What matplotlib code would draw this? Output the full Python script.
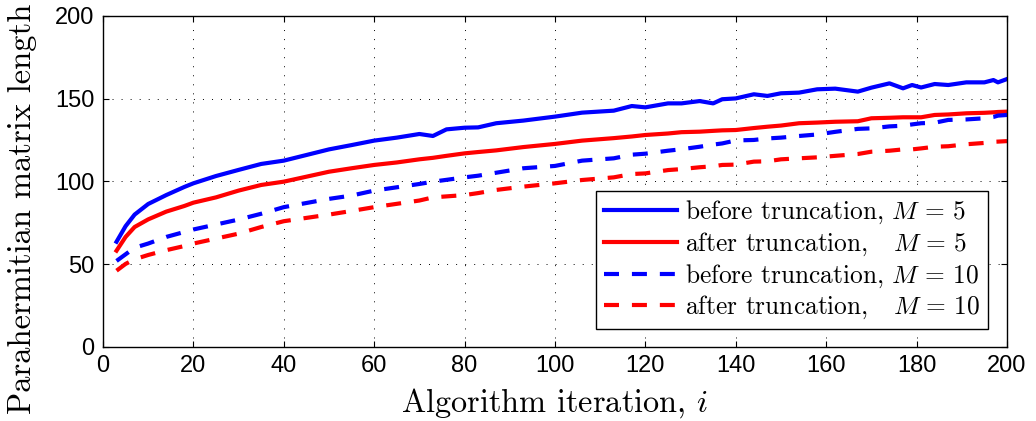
import matplotlib
matplotlib.use('Agg')
import matplotlib.pyplot as plt
import numpy as np

iters = [3, 5, 7, 10, 14, 18, 20, 25, 30, 35, 40, 45, 50, 55, 60, 65, 70, 73, 76, 80,
         83, 87, 93, 100, 106, 113, 117, 120, 125, 128, 132, 135, 137, 140, 144, 147, 150,
         154, 158, 162, 167, 170, 174, 177, 179, 181, 184, 187, 191, 195, 197, 198, 200]

before_m5 = [63.6, 73, 80, 86.4, 91.8, 96.7, 98.9, 103.3, 107, 110.6, 112.6, 116, 119.4, 122,
             124.7, 126.5, 128.7, 127.5, 131.5, 132.5, 132.7, 135.2, 136.8, 139.2, 141.6, 142.8,
             145.6, 144.8, 147.2, 147.2, 148.6, 147.2, 149.7, 150.2, 152.7, 151.7, 153.3, 153.7,
             155.7, 156.1, 154.3, 156.7, 159.3, 156.3, 158.3, 156.8, 158.9, 158.3, 159.9, 159.9,
             161.3, 159.9, 161.9]
after_m5 = [58.2, 66.5, 72.5, 77.1, 81.8, 85.2, 87.2, 90.4, 94.5, 97.9, 99.9, 102.9, 105.9, 108,
            110, 111.5, 113.4, 114.3, 115.5, 117, 117.8, 118.8, 120.8, 122.7, 124.7, 126.2, 127.2,
            128.1, 129, 129.8, 130.1, 130.6, 130.9, 131.1, 132.3, 133.1, 133.8, 135.2, 135.6,
            136.1, 136.4, 138.2, 138.5, 138.8, 138.8, 138.8, 140.2, 140.5, 141.2, 141.5, 141.8,
            142, 142.2]
before_m10 = [52, 56, 60, 62.5, 66.5, 69.5, 71, 74, 77, 80.5, 84.5, 87, 89.5, 91.5, 94.5, 96.5,
              98.5, 99.9, 101, 102.5, 103.5, 105.3, 108, 109.4, 112.6, 114, 116.2, 116.8, 118.6,
              119.5, 121, 122.3, 123, 124.8, 125.1, 126, 126.5, 127.5, 128.4, 130, 131.8, 132.1,
              133.3, 133.7, 134.5, 135.2, 135.5, 137.2, 137.5, 138.2, 139, 139.8, 140.2]
after_m10 = [46.1, 50.2, 53, 55.6, 58.5, 61, 62.5, 65.5, 68.5, 72.5, 76, 78, 80, 82.2, 84.5, 86.5,
             88.5, 90.4, 91, 91.8, 93, 94.9, 96.9, 98.9, 100.9, 102.5, 104.5, 104.9, 106.9, 107.5,
             108.6, 109.2, 110, 110.2, 112, 112.2, 113.4, 114, 114.6, 115.5, 116.6, 118, 118.6,
             119.4, 119.4, 120, 121, 121.3, 122.5, 123.3, 124, 124.1, 124.4]

labels = [r'before truncation, $M\,=\,5$', r'after truncation,   $M\,=\,5$',
          r'before truncation, $M\,=\,10$', r'after truncation,   $M\,=\,10$']

plt.rcParams['mathtext.fontset'] = 'cm'
plt.rcParams['axes.unicode_minus'] = False

fig = plt.figure(figsize=(10.36, 4.21), dpi=100)
ax = fig.add_axes([0.0994, 0.1758, 0.8726, 0.7862])

dash = (3.6, 3.1)
ax.plot(iters, before_m5, color='#0000ff', lw=3, label=labels[0])
ax.plot(iters, after_m5, color='#ff0000', lw=3, label=labels[1])
ax.plot(iters, before_m10, color='#0000ff', lw=3, dashes=dash, label=labels[2])
ax.plot(iters, after_m10, color='#ff0000', lw=3, dashes=dash, label=labels[3])

ax.set_xlim(0, 200)
ax.set_ylim(0, 200)
ax.set_xticks(np.arange(0, 201, 20))
ax.set_yticks(np.arange(0, 201, 50))
ax.grid(True, color='black', linestyle=(0, (1, 8.3)), linewidth=0.7)
ax.tick_params(direction='in', length=4, top=True, right=True, labelsize=17, pad=6)
for lab in ax.get_xticklabels() + ax.get_yticklabels():
    lab.set_family('Liberation Sans')
for sp in ax.spines.values():
    sp.set_linewidth(1.0)

ax.set_xlabel('Algorithm iteration, $i$', family='cmr10', fontsize=23.3, labelpad=6)
ax.set_ylabel('Parahermitian matrix length', family='cmr10', fontsize=23.4)
ax.yaxis.set_label_coords(-0.073, 0.417)

leg = ax.legend(loc='lower right', bbox_to_anchor=(0.979, 0.054), borderaxespad=0,
                prop={'family': 'cmr10', 'size': 18.3}, fancybox=False, framealpha=1,
                edgecolor='black', handlelength=2.9, handletextpad=0.3, labelspacing=0.17,
                borderpad=0.3)
leg.get_frame().set_linewidth(1.0)

plt.savefig('out.png', dpi=100)
